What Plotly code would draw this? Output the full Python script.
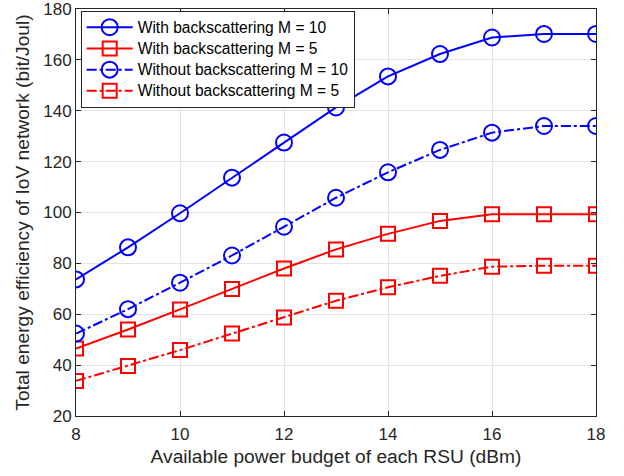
import plotly.graph_objects as go

# Available power budget of each RSU (dBm)
power_dbm = [8, 9, 10, 11, 12, 13, 14, 15, 16, 17, 18]

# Total energy efficiency (bit/Joul)
with_bs_m10 = [73.7, 86.3, 99.7, 113.7, 127.5, 141.3, 153.5, 162.3, 168.8, 170.2, 170.2]
with_bs_m5 = [46.5, 54.0, 61.9, 69.9, 78.0, 85.5, 91.6, 96.7, 99.3, 99.3, 99.3]
without_bs_m10 = [52.4, 62.0, 72.4, 83.1, 94.4, 105.8, 115.8, 124.6, 131.4, 134.0, 134.0]
without_bs_m5 = [33.8, 39.7, 45.9, 52.4, 58.7, 65.3, 70.6, 75.1, 78.7, 79.1, 79.1]

series_names = [
    "With backscattering M = 10",
    "With backscattering M = 5",
    "Without backscattering M = 10",
    "Without backscattering M = 5",
]

BLUE = "#0000ff"
RED = "#ff0000"
INK = "#262626"
GRID = "#e3e3e3"
DASHDOT = "10px,3px,3px,3px"
FONT = "Liberation Sans, Arial, sans-serif"

styles = [
    (with_bs_m10, BLUE, "solid", "circle-open", 16),
    (with_bs_m5, RED, "solid", "square-open", 14),
    (without_bs_m10, BLUE, DASHDOT, "circle-open", 16),
    (without_bs_m5, RED, DASHDOT, "square-open", 14),
]

fig = go.Figure()
for name, (vals, color, dash, symbol, size) in zip(series_names, styles):
    fig.add_trace(go.Scatter(
        x=power_dbm, y=vals, mode="lines+markers",
        # legend rows are spaced by the 14px legend font; the label itself is larger
        name=f'<span style="font-size:15.6px">{name}</span>',
        line=dict(color=color, width=2, dash=dash),
        marker=dict(symbol=symbol, size=size, color=color,
                    line=dict(color=color, width=2)),
    ))

axis_common = dict(
    showline=True, linecolor=INK, linewidth=1, mirror="ticks",
    ticks="inside", ticklen=5, tickcolor=INK, tickwidth=1,
    showgrid=True, gridcolor=GRID, gridwidth=1, zeroline=False,
    tickfont=dict(family=FONT, size=17, color=INK),
    ticklabeloverflow="allow", automargin=False,
)

fig.update_layout(
    width=624, height=476,
    margin=dict(l=76, r=28, t=9, b=60),
    paper_bgcolor="white", plot_bgcolor="white",
    font=dict(family=FONT, color=INK),
    xaxis=dict(range=[8, 18], dtick=2, tick0=8, ticklabelstandoff=3,
               title=dict(text="Available power budget of each RSU (dBm)",
                          font=dict(family=FONT, size=19.2, color=INK), standoff=6),
               **axis_common),
    yaxis=dict(range=[20, 180], dtick=20, tick0=20,
               title=dict(text="Total energy efficiency of IoV network (bit/Joul)",
                          font=dict(family=FONT, size=19.2, color=INK), standoff=8),
               **axis_common),
    legend=dict(
        x=0.009, y=0.996, xanchor="left", yanchor="top",
        bgcolor="white", bordercolor=INK, borderwidth=1,
        font=dict(family=FONT, size=14, color="#000000"),
        itemwidth=46, tracegroupgap=0,
    ),
    showlegend=True,
)

fig.write_html("out.html")
